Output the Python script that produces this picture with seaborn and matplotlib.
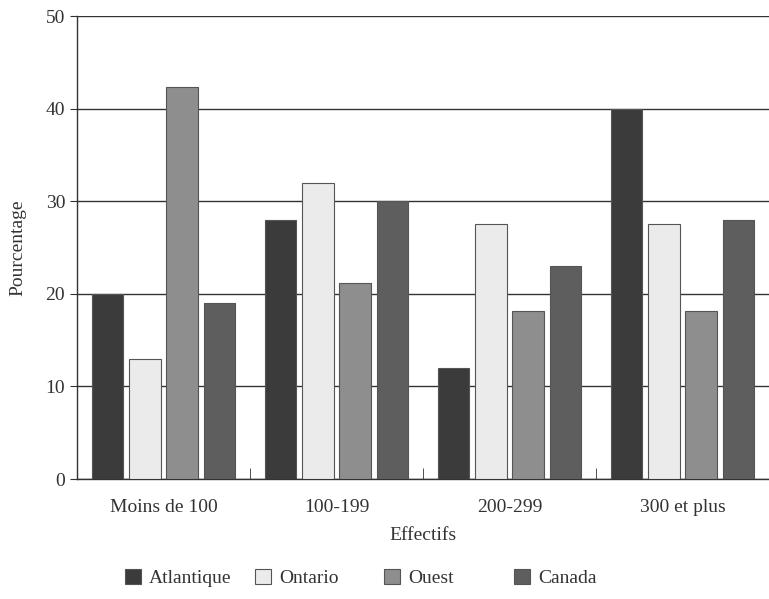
import pandas as pd
import matplotlib.pyplot as plt
import seaborn as sns

categories = ['Moins de 100', '100-199', '200-299', '300 et plus']
regions = ['Atlantique', 'Ontario', 'Ouest', 'Canada']
atlantique = [20, 28, 12, 40]
ontario = [13, 32, 27.5, 27.5]
ouest = [42.3, 21.2, 18.2, 18.2]
canada = [19, 30, 23, 28]

df = pd.DataFrame({
    'Effectifs': categories * 4,
    'Region': [r for r in regions for _ in categories],
    'Pourcentage': atlantique + ontario + ouest + canada,
})

sns.set_style('white')
plt.rcParams['font.family'] = ['Liberation Serif', 'DejaVu Serif']

colors = ['#3b3b3b', '#ebebeb', '#8e8e8e', '#5e5e5e']
txt = '#333333'
fs = 14

fig = plt.figure(figsize=(7.69, 5.99), dpi=100)
ax = fig.add_axes([0.1001, 0.2003, 0.8999, 0.7727])
sns.barplot(data=df, x='Effectifs', y='Pourcentage', hue='Region', hue_order=regions,
            palette=colors, width=0.86, gap=0.16, edgecolor='#555555', linewidth=0.8,
            legend=True, ax=ax, zorder=3)

ax.set_ylim(0, 50)
ax.set_xlim(-0.5, 3.5)
ax.set_yticks([0, 10, 20, 30, 40, 50])
ax.yaxis.grid(True, color=txt, linewidth=1.0)
ax.set_axisbelow(True)
for s in ['top', 'right']:
    ax.spines[s].set_visible(False)
for s in ['left', 'bottom']:
    ax.spines[s].set_color(txt)
    ax.spines[s].set_linewidth(1.0)

ax.tick_params(axis='y', left=True, length=5, color=txt, labelsize=fs, labelcolor=txt)
ax.tick_params(axis='x', bottom=False, labelsize=fs, labelcolor=txt, pad=11)
ax.set_xticks([0.5, 1.5, 2.5], minor=True)
ax.tick_params(axis='x', which='minor', bottom=True, direction='in', length=8, color=txt)
ax.set_xlabel('Effectifs', fontsize=fs, color=txt, labelpad=8)
ax.set_ylabel('Pourcentage', fontsize=fs, color=txt, labelpad=14)

handles, labels = ax.get_legend_handles_labels()
ax.get_legend().remove()
# one legend per entry, to keep the fixed pitch of the original
for h, lab, x0 in zip(handles, labels, [0.162, 0.331, 0.499, 0.668]):
    fig.legend([h], [lab], loc='center left', bbox_to_anchor=(x0, 0.035),
               frameon=False, fontsize=fs, handlelength=0.85, handleheight=0.85,
               handletextpad=0.4, borderpad=0, borderaxespad=0, labelcolor=txt)

fig.savefig('out.png', dpi=100)
